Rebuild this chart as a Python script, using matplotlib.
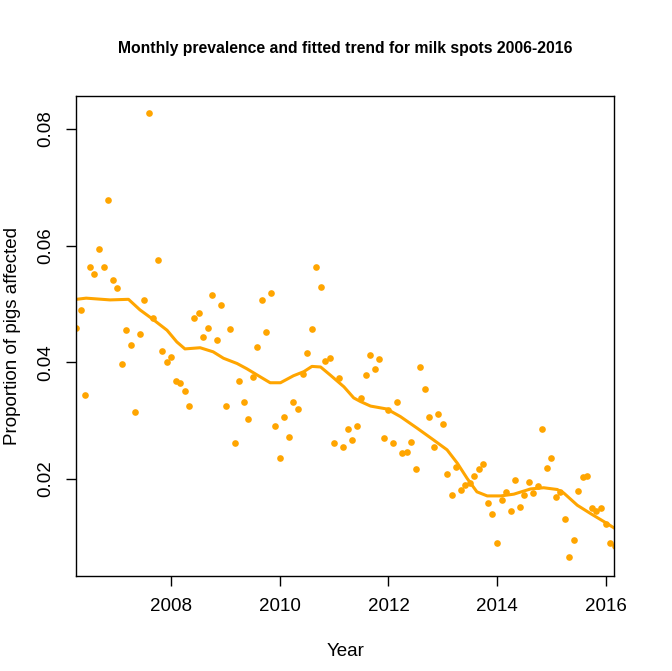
import numpy as np
import matplotlib
matplotlib.use("Agg")
import matplotlib.pyplot as plt

plt.rcParams['font.family'] = ['Liberation Sans', 'DejaVu Sans']

# Monthly prevalence, April 2006 to March 2016
start_year = 2006.25
prevalence = [
    0.0459, 0.0490, 0.0344, 0.0563, 0.0551, 0.0594, 0.0563, 0.0678, 0.0541, 0.0527,
    0.0397, 0.0455, 0.0430, 0.0315, 0.0449, 0.0507, 0.0827, 0.0476, 0.0575, 0.0419,
    0.0401, 0.0409, 0.0368, 0.0365, 0.0351, 0.0325, 0.0476, 0.0485, 0.0443, 0.0459,
    0.0515, 0.0438, 0.0498, 0.0325, 0.0457, 0.0262, 0.0368, 0.0332, 0.0303, 0.0375,
    0.0426, 0.0507, 0.0452, 0.0519, 0.0291, 0.0236, 0.0306, 0.0272, 0.0332, 0.0320,
    0.0380, 0.0416, 0.0457, 0.0563, 0.0529, 0.0402, 0.0407, 0.0262, 0.0373, 0.0255,
    0.0286, 0.0267, 0.0291, 0.0339, 0.0378, 0.0413, 0.0389, 0.0406, 0.0270, 0.0318,
    0.0262, 0.0332, 0.0245, 0.0246, 0.0263, 0.0217, 0.0392, 0.0354, 0.0306, 0.0255,
    0.0311, 0.0294, 0.0209, 0.0173, 0.0221, 0.0181, 0.0190, 0.0193, 0.0205, 0.0217,
    0.0226, 0.0159, 0.0140, 0.0090, 0.0164, 0.0178, 0.0145, 0.0198, 0.0152, 0.0173,
    0.0195, 0.0176, 0.0188, 0.0286, 0.0219, 0.0236, 0.0169, 0.0178, 0.0131, 0.0066,
    0.0095, 0.0179, 0.0203, 0.0205, 0.0150, 0.0145, 0.0150, 0.0123, 0.0090, 0.0085,
]
months = start_year + np.arange(len(prevalence)) / 12.0

# fitted trend
trend_year = [
    2006.25, 2006.43, 2006.87, 2007.21, 2007.42, 2007.67, 2007.92, 2008.10, 2008.25,
    2008.53, 2008.77, 2008.96, 2009.21, 2009.39, 2009.64, 2009.82, 2010.01, 2010.25,
    2010.44, 2010.59, 2010.75, 2010.93, 2011.18, 2011.36, 2011.48, 2011.67, 2011.97,
    2012.22, 2012.53, 2012.83, 2013.08, 2013.27, 2013.45, 2013.63, 2013.82, 2014.07,
    2014.31, 2014.62, 2014.86, 2015.11, 2015.23, 2015.48, 2015.72, 2015.97, 2016.16,
]
trend_value = [
    0.0508, 0.0510, 0.0507, 0.0508, 0.0490, 0.0473, 0.0455, 0.0435, 0.0423,
    0.0425, 0.0418, 0.0407, 0.0398, 0.0389, 0.0375, 0.0365, 0.0365, 0.0377,
    0.0384, 0.0393, 0.0392, 0.0378, 0.0358, 0.0339, 0.0333, 0.0325, 0.0320,
    0.0307, 0.0287, 0.0267, 0.0250, 0.0227, 0.0201, 0.0178, 0.0171, 0.0171,
    0.0174, 0.0183, 0.0185, 0.0182, 0.0176, 0.0155, 0.0141, 0.0127, 0.0116,
]

fig = plt.figure(figsize=(6.72, 6.71), dpi=100)
ax = fig.add_axes([0.1137, 0.1420, 0.8007, 0.7149])

ax.plot(months, prevalence, 'o', color='orange', markersize=4.8,
        markeredgewidth=0, clip_on=True)
ax.plot(trend_year, trend_value, '-', color='orange', linewidth=2.2)

ax.set_xlim(2006.25, 2016.165)
ax.set_ylim(0.00342, 0.08565)
ax.set_xticks([2008, 2010, 2012, 2014, 2016])
ax.set_yticks([0.02, 0.04, 0.06, 0.08])
ax.set_yticklabels(['0.02', '0.04', '0.06', '0.08'], rotation=90, va='center')
ax.tick_params(direction='out', length=7, width=1, labelsize=13.5, pad=9)
for s in ax.spines.values():
    s.set_linewidth(1)

ax.set_xlabel('Year', fontsize=13.5, labelpad=20)
ax.set_ylabel('Proportion of pigs affected', fontsize=13.5, labelpad=12)

fig.text(0.5137, 1 - 49 / 671, 'Monthly prevalence and fitted trend for milk spots 2006-2016',
         ha='center', va='center', fontsize=11.3, fontweight='bold')

fig.savefig('out.png', dpi=100)
